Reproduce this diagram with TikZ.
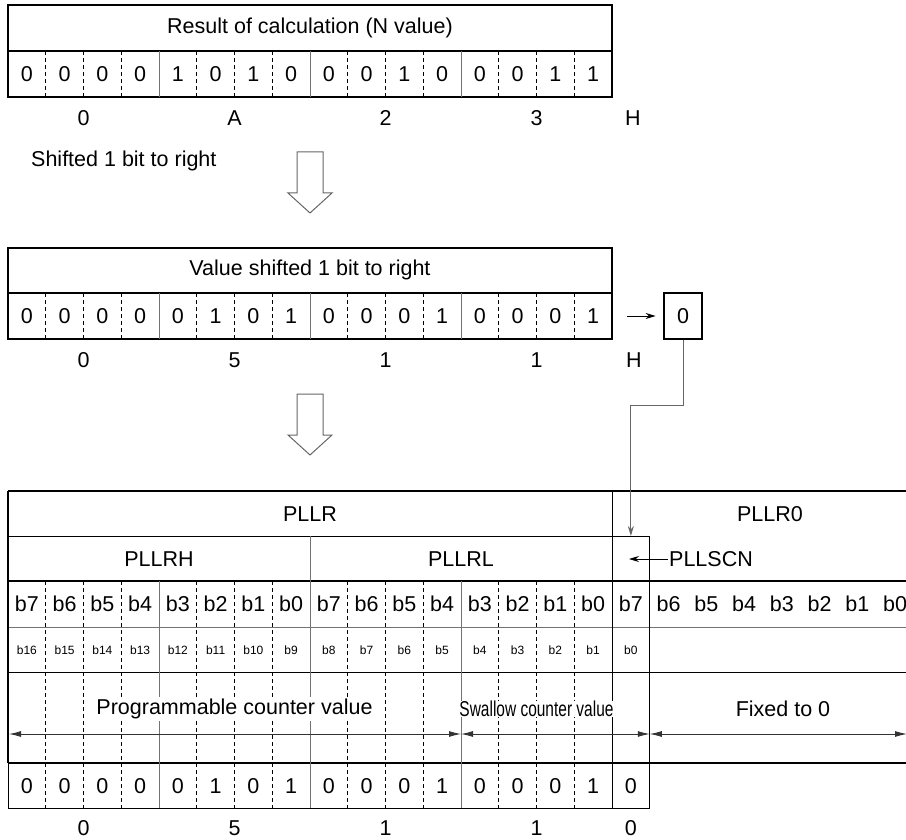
\documentclass[tikz,border=0pt]{standalone}
\usepackage{fontspec}
\setmainfont{Liberation Sans}
\usepackage{graphicx}
\usetikzlibrary{arrows.meta, positioning, calc}

\newcommand{\cellw}{37.75}
% dividers of one 16-bit row, between y=#1 and y=#2
\newcommand{\bitdividers}[2]{%
  \foreach \i in {1,...,15} {
    \pgfmathtruncatemacro{\nib}{mod(\i,4)}
    \ifnum\nib=0
      \draw[nibble] ({8+\i*\cellw},#1) -- ({8+\i*\cellw},#2);
    \else
      \draw[bitdash] ({8+\i*\cellw},#1) -- ({8+\i*\cellw},#2);
    \fi
  }%
}

\begin{document}
\begin{tikzpicture}[
    x=1pt, y=-1pt,
    >=Stealth,
    frame/.style={line width=2.7pt},
    thinline/.style={line width=1pt},
    nibble/.style={line width=1pt, color=black!55},
    bitdash/.style={line width=0.9pt, dash pattern=on 4pt off 3pt},
    lbl/.style={font=\fontsize{21.5}{25}\selectfont, inner sep=1pt},
    small/.style={font=\fontsize{12}{14}\selectfont, inner sep=1pt},
    arrow/.style={-{Stealth[length=10pt, width=6pt]}, line width=0.9pt},
    dimline/.style={{Latex[length=12pt, width=6pt]}-{Latex[length=12pt, width=6pt]},
                    line width=0.9pt, color=black!80},
    hollowarrow/.pic={
        \draw[line width=1pt, color=black!60, fill=white]
            (-13,0) -- (13,0) -- (13,41) -- (22,41) -- (0,61)
            -- (-22,41) -- (-13,41) -- cycle;
    },
]
    \useasboundingbox (0,0) rectangle (906,840);
    \clip (0,0) rectangle (906,840);

    % Result of calculation
    \draw[frame] (8,5) rectangle (612,97);
    \draw[frame] (8,51) -- (612,51);
    \bitdividers{51}{97}
    \node[lbl] (title1) at (310,28) {Result of calculation (N value)};
    \foreach \b [count=\i from 0] in {0,0,0,0,1,0,1,0,0,0,1,0,0,0,1,1}
        \node[lbl] (nbit\i) at ({8+(\i+0.5)*\cellw},74) {\b};
    \foreach \h [count=\i from 0] in {0,A,2,3}
        \node[lbl] (nhex\i) at ({8+(4*\i+2)*\cellw},118) {\h};
    \node[lbl] (nhexH) at (633,118) {H};

    \node[lbl, anchor=west] (shiftlbl) at (30,161) {Shifted 1 bit to right};
    \pic at (310,152) {hollowarrow};

    % Value shifted 1 bit to right
    \draw[frame] (8,248) rectangle (612,339);
    \draw[frame] (8,293) -- (612,293);
    \bitdividers{293}{339}
    \node[lbl] (title2) at (310,270) {Value shifted 1 bit to right};
    \foreach \b [count=\i from 0] in {0,0,0,0,0,1,0,1,0,0,0,1,0,0,0,1}
        \node[lbl] (sbit\i) at ({8+(\i+0.5)*\cellw},316) {\b};
    \foreach \h [count=\i from 0] in {0,5,1,1}
        \node[lbl] (shex\i) at ({8+(4*\i+2)*\cellw},360) {\h};
    \node[lbl] (shexH) at (634,360) {H};

    \node[lbl, draw, line width=2.7pt, minimum width=38pt, minimum height=46pt]
        (carry) at (683,316) {0};
    \coordinate (shiftout) at (627,316);
    \draw[arrow] (shiftout) -- ([xshift=-7pt]carry.west);

    \pic at (310,394) {hollowarrow};

    % PLLR register
    \draw[frame] (8,491) -- (914,491);
    \draw[thinline] (8,536) -- ({8+17*\cellw},536);
    \draw[frame] (8,581) -- (914,581);
    \draw[nibble] (8,627) -- (914,627);
    \draw[thinline] (8,672) -- (914,672);
    \draw[frame] (8,763) -- (914,763);
    \draw[thinline] (8,808) -- ({8+17*\cellw},808);
    \draw[frame] (8,491) -- (8,763);
    \draw[thinline] (8,763) -- (8,808);
    \draw[thinline] ({8+16*\cellw},491) -- ({8+16*\cellw},808);
    \draw[thinline] ({8+17*\cellw},536) -- ({8+17*\cellw},808);
    \draw[nibble] ({8+8*\cellw},536) -- ({8+8*\cellw},581);
    \bitdividers{581}{808}

    \node[lbl] (pllr) at (310,514) {PLLR};
    \node[lbl] (pllr0) at (770,514) {PLLR0};
    \node[lbl] (pllrh) at ({8+4*\cellw},559) {PLLRH};
    \node[lbl] (pllrl) at ({8+12*\cellw},559) {PLLRL};
    \node[lbl, anchor=west] (pllscn) at (668,559) {PLLSCN};
    \coordinate (scnin) at (629,559);
    \draw[arrow] (pllscn.west) -- (scnin);

    % bit numbers
    \foreach \i in {0,...,23} {
        \pgfmathtruncatemacro{\bn}{7-mod(\i,8)}
        \node[lbl] (reg\i) at ({8+(\i+0.5)*\cellw},604) {b\bn};
    }
    \foreach \i in {0,...,16} {
        \pgfmathtruncatemacro{\bn}{16-\i}
        \node[small] (nb\i) at ({8+(\i+0.5)*\cellw},650) {b\bn};
    }

    % Counter fields
    \node[lbl, fill=white, inner sep=2pt] (pcval) at ({8+6*\cellw},709) {Programmable counter value};
    \node[lbl, fill=white, inner sep=0pt] (scval) at ({8+14*\cellw},709)
        {\scalebox{0.72}[1]{Swallow counter value}};
    \node[lbl] (fixed) at (783,709) {Fixed to 0};
    \coordinate (pcleft) at (9,734);
    \coordinate (split1) at ({8+12*\cellw},734);
    \coordinate (split2) at ({8+17*\cellw},734);
    \coordinate (fixright) at (907,734);
    \draw[dimline] (pcleft) -- (split1);
    \draw[dimline] (split1) -- (split2);
    \draw[dimline] (split2) -- (fixright);

    % Register value
    \foreach \b [count=\i from 0] in {0,0,0,0,0,1,0,1,0,0,0,1,0,0,0,1,0}
        \node[lbl] (rbit\i) at ({8+(\i+0.5)*\cellw},786) {\b};
    \foreach \h [count=\i from 0] in {0,5,1,1}
        \node[lbl] (rhex\i) at ({8+(4*\i+2)*\cellw},828) {\h};
    \node[lbl] (rhex4) at ({8+16.5*\cellw},828) {0};

    % carry bit into PLLSCN
    \coordinate (scntop) at ({8+16.5*\cellw},536);
    \draw[line width=1pt, color=black!60, -{Stealth[length=10pt, width=6pt]}]
        (carry.south) -- ++(0,65) -| (scntop);
\end{tikzpicture}
\end{document}
